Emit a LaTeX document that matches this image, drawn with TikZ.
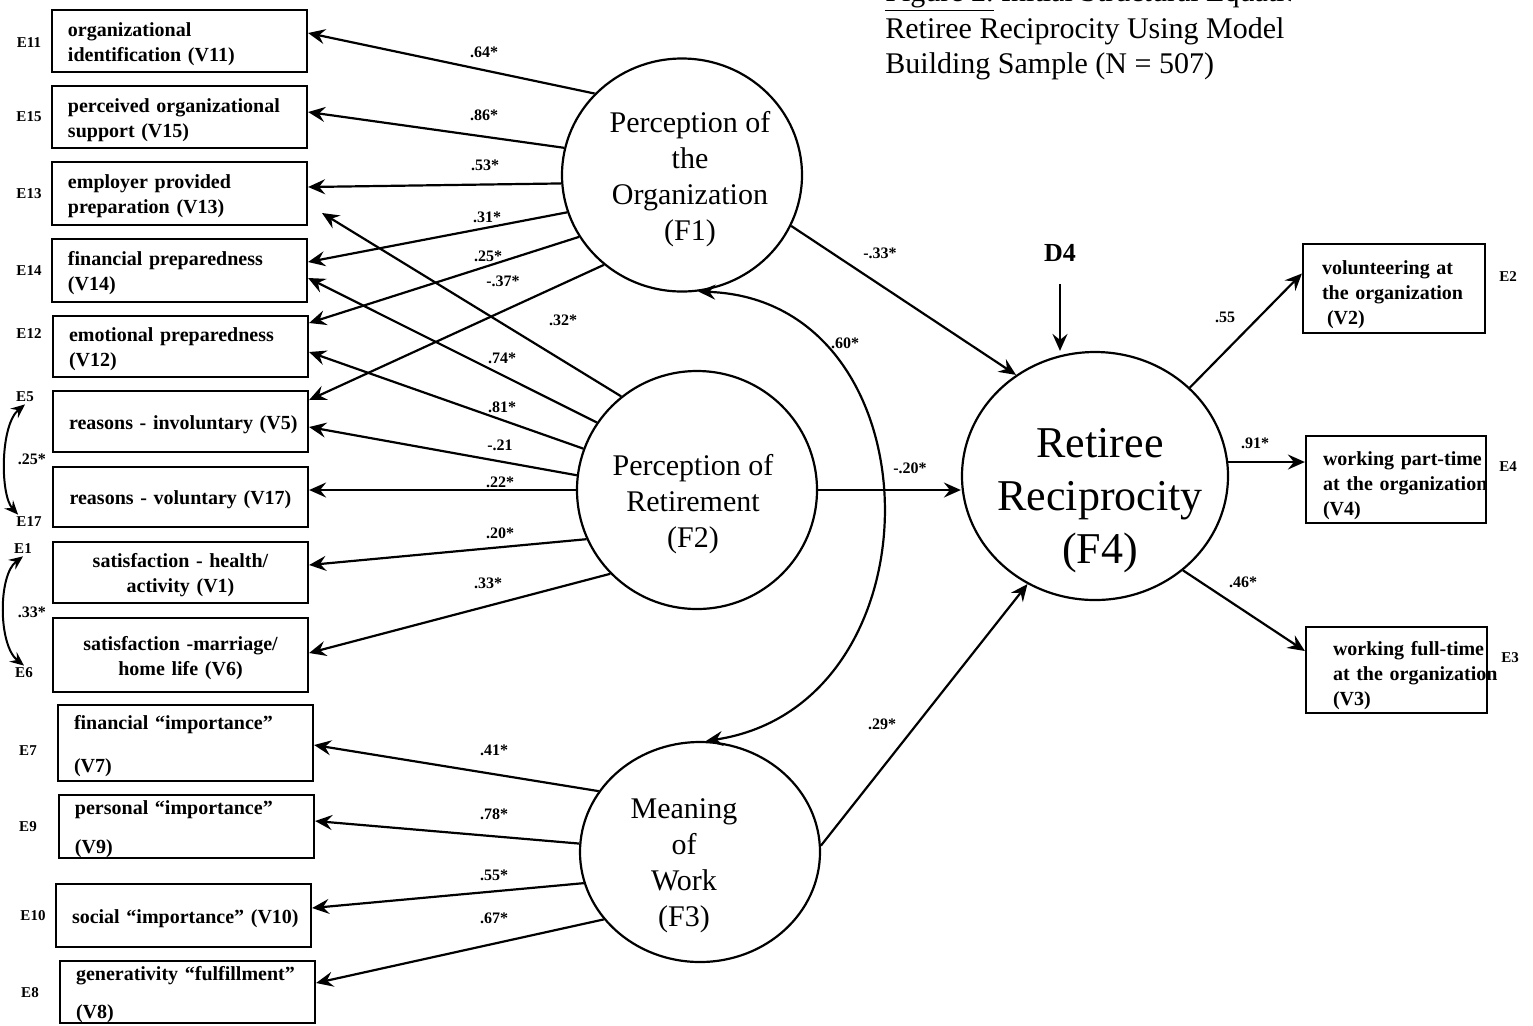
\documentclass[tikz,border=0pt]{standalone}
\usepackage{fontspec}
\setmainfont{Liberation Serif}
\usetikzlibrary{arrows.meta,shapes.geometric,calc}
\newcommand\cirtext[3]{\makebox[0pt][l]{\hspace*{#1}\makebox[0pt]{\raisebox{#2}[0pt][0pt]{\begin{tabular}{@{}c@{}}#3\end{tabular}}}}}
\begin{document}
\begin{tikzpicture}[x=0.5pt,y=-0.5pt,
  box/.style={draw, line width=1.1pt, font=\bfseries\fontsize{10}{12.5}\selectfont, inner ysep=0pt},
  lbox/.style={box, align=left, text width=111.5pt, inner xsep=8pt, execute at begin node={\rule{0pt}{10pt}}},
  cbox/.style={box, align=center, text width=111.5pt, inner xsep=8pt, execute at begin node={\rule{0pt}{10pt}}},
  rbox/.style={box, align=left, execute at begin node={\rule{0pt}{13pt}}},
  circ/.style={draw, ellipse, line width=1.1pt, inner sep=0pt, font=\fontsize{15}{18}\selectfont},
  arr/.style={line width=1.1pt, -{Stealth[length=8.5pt,width=7.5pt,inset=3pt]}},
  darr/.style={line width=1pt, {Stealth[length=7pt,width=6pt,inset=2.5pt]}-{Stealth[length=7pt,width=6pt,inset=2.5pt]}},
  carr/.style={line width=1.1pt, {Stealth[length=8.5pt,width=7.5pt,inset=3pt]}-{Stealth[length=8.5pt,width=7.5pt,inset=3pt]}},
  coef/.style={font=\bfseries\fontsize{8}{9.6}\selectfont, inner sep=0pt},
  elab/.style={font=\bfseries\fontsize{7.5}{9}\selectfont, inner sep=1pt},
  ttl/.style={font=\fontsize{15}{18}\selectfont, inner sep=0pt, anchor=base west}
]
\useasboundingbox (0,0) rectangle (1533,1025);

% ---- title ----
\begin{scope}
\clip (870,-30) rectangle (1290,30);
\node[ttl] (T1) at (885,1) {\underline{Figure 2.}\ Initial Structural Equation};
\end{scope}
\node[ttl] (T2) at (885,38) {Retiree Reciprocity Using Model};
\node[ttl] (T3) at (885,73) {Building Sample (N = 507)};

% ---- left boxes ----
\node[lbox, minimum height=31pt] (V11) at (179.5,41) {organizational\\identification (V11)};
\node[lbox, minimum height=31pt] (V15) at (179.5,117) {perceived organizational\\support (V15)};
\node[lbox, minimum height=31.5pt] (V13) at (179.5,193.5) {employer provided\\preparation (V13)};
\node[lbox, minimum height=31.5pt] (V14) at (179.5,270.5) {financial preparedness\\(V14)};
\node[lbox, minimum height=30.5pt] (V12) at (180.5,346.5) {emotional preparedness\\(V12)};
\node[cbox, minimum height=30.5pt] (V5) at (180.5,421.5) {\mbox{reasons - involuntary (V5)}};
\node[cbox, minimum height=30pt] (V17) at (180.5,497) {reasons - voluntary (V17)};
\node[cbox, minimum height=30.5pt] (V1) at (180.5,572.5) {satisfaction - health/\\activity (V1)};
\node[cbox, minimum height=37pt] (V6) at (180.5,655) {satisfaction -marriage/\\home life (V6)};
\node[lbox, minimum height=38pt] (V7) at (185.5,743) {financial “importance”\\[9pt](V7)};
\node[lbox, minimum height=31.5pt] (V9) at (186.5,826.5) {personal “importance”\\[7pt](V9)};
\node[lbox, minimum height=31.5pt] (V10) at (183.5,915.5) {\mbox{social “importance” (V10)}};
\node[lbox, minimum height=31pt] (V8) at (187.5,992) {generativity “fulfillment”\\[6.5pt](V8)};

% ---- right boxes ----
\node[rbox, text width=72pt, inner xsep=9.5pt, minimum height=44.5pt] (V2) at (1394,288.5) {volunteering at\\\mbox{the organization}\\\hspace*{2.5pt}(V2)};
\node[rbox, text width=73pt, inner xsep=8.5pt, minimum height=43.5pt] (V4) at (1396,479.5) {\mbox{working part-time}\\\mbox{at the organization}\\(V4)};
\node[rbox, text width=63.5pt, inner xsep=13.5pt, minimum height=43pt] (V3) at (1396.5,670) {\mbox{working full-time}\\\mbox{at the organization}\\(V3)};

% ---- error labels ----
\node[elab] (E11) at (29,43) {E11};
\node[elab] (E15) at (29,117) {E15};
\node[elab] (E13) at (29,194) {E13};
\node[elab] (E14) at (29,271) {E14};
\node[elab] (E12) at (29,334) {E12};
\node[elab] (E5) at (25,397) {E5};
\node[elab] (E17) at (29,522) {E17};
\node[elab] (E1) at (23,549) {E1};
\node[elab] (E6) at (24,673) {E6};
\node[elab] (E7) at (28,751) {E7};
\node[elab] (E9) at (28,827) {E9};
\node[elab] (E10) at (33,916) {E10};
\node[elab] (E8) at (30,993) {E8};
\node[elab] (E2) at (1508,277) {E2};
\node[elab] (E4) at (1508,467) {E4};
\node[elab] (E3) at (1510,658) {E3};
\node[font=\bfseries\fontsize{13}{15}\selectfont, inner sep=0pt] (D4) at (1060,253) {D4};

% ---- factors ----
\node[circ, minimum width=120pt, minimum height=116.5pt] (F1) at (682,175) {\cirtext{4pt}{-5.5pt}{Perception of\\the\\Organization\\(F1)}};
\node[circ, minimum width=120pt, minimum height=119pt] (F2) at (697,490) {\cirtext{-2pt}{-10.5pt}{Perception of\\Retirement\\(F2)}};
\node[circ, minimum width=120pt, minimum height=110pt] (F3) at (700,852) {\cirtext{-8pt}{-10pt}{Meaning\\of\\Work\\(F3)}};
\node[circ, font=\fontsize{22}{26.5}\selectfont, minimum width=133pt, minimum height=124pt] (F4) at (1095,476) {\cirtext{2.5pt}{-17pt}{Retiree\\Reciprocity\\(F4)}};

\coordinate (t74) at (322,213);

% ---- F1 loadings ----
\draw[arr] (F1.137.7) -- ($(V11.east)+(0,-8)$);
\draw[arr] (F1.167.5) -- ($(V15.east)+(0,-5)$);
\draw[arr] (F1.184) -- ($(V13.east)+(0,-6.5)$);
\draw[arr] (F1.198) -- ($(V14.east)+(0,-8.5)$);
\draw[arr] (F1.211.8) -- ($(V12.east)+(0,-23.5)$);
\draw[arr] (F1.229.6) -- ($(V5.east)+(0,-21.5)$);
% ---- F2 loadings ----
\draw[arr] (F2.129.4) -- (t74);
\draw[arr] (F2.146.7) -- ($(V14.east)+(0,7.5)$);
\draw[arr] (F2.160.3) -- ($(V12.east)+(0,5.5)$);
\draw[arr] (F2.173.6) -- ($(V5.east)+(0,5.5)$);
\draw[arr] (F2.180) -- ($(V17.east)+(0,-7)$);
\draw[arr] (F2.204) -- ($(V1.east)+(0,-7.5)$);
\draw[arr] (F2.224.7) -- ($(V6.east)+(0,-2)$);
% ---- F3 loadings ----
\draw[arr] (F3.149) -- ($(V7.east)+(0,2)$);
\draw[arr] (F3.176.6) -- ($(V9.east)+(0,-5.5)$);
\draw[arr] (F3.195.6) -- ($(V10.east)+(0,-7.5)$);
\draw[arr] (F3.215.4) -- ($(V8.east)+(0,-9)$);
% ---- structural paths ----
\draw[arr] (F1.335) -- (F4.128.6);
\draw[arr] (F2.east) -- (F2.east -| F4.west);
\draw[arr] (F3.3.3) -- (F4.238.4);
\draw[arr] ([yshift=-11pt]D4.south) -- (D4.south |- F4.north);
\draw[carr] (F1.278) .. controls (940,300) and (945,705) .. (F3.87.4);
% ---- F4 loadings ----
\draw[arr] (F4.43.8) -- ($(V2.west)+(0,-15)$);
\draw[arr] (F4.6) -- (F4.6 -| V4.west);
\draw[arr] (F4.313) -- ($(V3.west)+(0,-19)$);
% ---- error covariances ----
\draw[darr] (E5.south) .. controls (0,425) and (0,495) .. ([xshift=2pt]E17.north west);
\draw[darr] (E1.south) .. controls (-2,575) and (-2,645) .. (E6.north);

% ---- coefficients ----
\node[coef] (c64) at (484,52) {.64*};
\node[coef] (c86) at (484,115) {.86*};
\node[coef] (c53) at (485,165) {.53*};
\node[coef] (c31) at (487,217) {.31*};
\node[coef] (c25) at (488,256) {.25*};
\node[coef] (c37) at (503,281) {-.37*};
\node[coef] (c32) at (563,320) {.32*};
\node[coef] (c74) at (502,358) {.74*};
\node[coef] (c81) at (502,407) {.81*};
\node[coef] (c21) at (500,445) {-.21};
\node[coef] (c22) at (500,482) {.22*};
\node[coef] (c20) at (500,533) {.20*};
\node[coef] (c33) at (488,583) {.33*};
\node[coef] (c41) at (494,750) {.41*};
\node[coef] (c78) at (494,814) {.78*};
\node[coef] (c55b) at (494,875) {.55*};
\node[coef] (c67) at (494,918) {.67*};
\node[coef] (c60) at (845,343) {.60*};
\node[coef] (cm33) at (880,253) {-.33*};
\node[coef] (cm20) at (910,468) {-.20*};
\node[coef] (c29) at (882,724) {.29*};
\node[coef] (c55) at (1225,317) {.55};
\node[coef] (c91) at (1255,443) {.91*};
\node[coef] (c46) at (1243,582) {.46*};
\node[coef] (e25) at (32,459) {.25*};
\node[coef] (e33) at (32,612) {.33*};
\end{tikzpicture}
\end{document}
